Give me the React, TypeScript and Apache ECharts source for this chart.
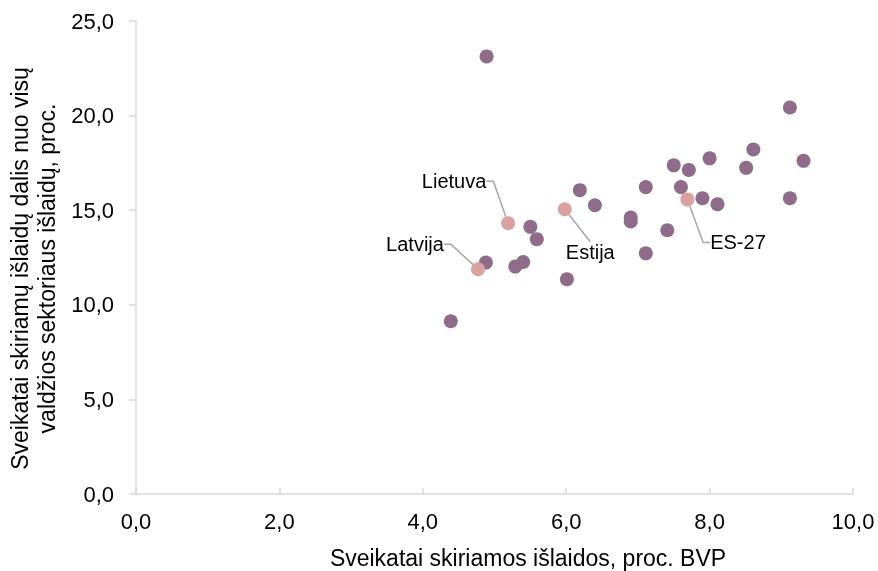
import React, { useEffect, useRef } from 'react';
import * as echarts from 'echarts';

// Other countries (x: health spending % of GDP, y: share of total government spending %)
const othersX = [4.89, 4.39, 4.88, 5.50, 5.59, 5.29, 5.40, 6.01, 6.19, 6.40, 6.90, 6.90, 7.11, 7.11, 7.41, 7.50, 7.60, 7.71, 7.90, 8.11, 8.00, 8.51, 8.61, 9.12, 9.31, 9.12];
const othersY = [23.13, 9.13, 12.23, 14.12, 13.47, 12.02, 12.26, 11.35, 16.06, 15.26, 14.61, 14.40, 16.22, 12.72, 13.94, 17.37, 16.22, 17.13, 15.63, 15.32, 17.74, 17.24, 18.21, 20.43, 17.61, 15.63];

// Highlighted (labelled) points
const highlightNames = ['Latvija', 'Lietuva', 'Estija', 'ES-27'];
const highlightX = [4.77, 5.19, 5.98, 7.69];
const highlightY = [11.88, 14.31, 15.05, 15.57];

const xTitle = 'Sveikatai skiriamos išlaidos, proc. BVP';
const yTitle = 'Sveikatai skiriamų išlaidų dalis nuo visų\nvaldžios sektoriaus išlaidų, proc.';

// label offsets (px) from the point centre and leader elbow length, layout only
const labelOffsets: number[][] = [[-63, -25], [-54, -42], [25.5, 42.5], [50.6, 43]];
const labelElbows = [7, 7, 0, 7];

export default function App() {
  const ref = useRef<HTMLDivElement>(null);
  useEffect(() => {
    const chart = echarts.init(ref.current!, null, { renderer: 'svg' });
    const font = '"Liberation Sans", Arial, sans-serif';
    const fmt = (v: number) => v.toFixed(1).replace('.', ',');
    const axisColor = '#DCD6DA';
    chart.setOption({
      animation: false,
      textStyle: { fontFamily: font },
      grid: { left: 136, right: 25, top: 21, bottom: 77, containLabel: false, outerBoundsMode: 'none' },
      xAxis: {
        type: 'value',
        min: 0,
        max: 10,
        interval: 2,
        splitLine: { show: false },
        axisLine: { show: true, lineStyle: { color: axisColor, width: 1.5 } },
        axisTick: { show: true, inside: true, length: 6, lineStyle: { color: axisColor, width: 1.5 } },
        axisLabel: { formatter: fmt, fontSize: 22, color: '#000', margin: 16, fontFamily: font },
        name: xTitle,
        nameLocation: 'middle',
        nameGap: 52,
        nameTextStyle: { fontSize: 23, color: '#000', fontFamily: font, padding: [0, 0, 0, 67] },
      },
      yAxis: {
        type: 'value',
        min: 0,
        max: 25,
        interval: 5,
        splitLine: { show: false },
        axisLine: { show: true, lineStyle: { color: axisColor, width: 1.5 } },
        axisTick: { show: true, inside: false, length: 7, lineStyle: { color: axisColor, width: 1.5 } },
        axisLabel: { formatter: fmt, fontSize: 22, color: '#000', margin: 22, fontFamily: font },
        name: yTitle,
        nameLocation: 'middle',
        nameRotate: 90,
        nameGap: 73,
        nameTextStyle: { fontSize: 23, color: '#000', fontFamily: font, lineHeight: 27, padding: [0, 22, 0, 0] },
      },
      series: [
        {
          type: 'scatter',
          data: othersX.map((x, i) => [x, othersY[i]]),
          symbolSize: 14,
          itemStyle: { color: '#8E6C8A', opacity: 1 },
          emphasis: { disabled: true },
        },
        {
          type: 'scatter',
          data: highlightX.map((x, i) => ({
            name: highlightNames[i],
            value: [x, highlightY[i]],
            labelLine: { length2: labelElbows[i] },
          })),
          symbolSize: 14,
          itemStyle: { color: '#D9A19F', opacity: 1 },
          emphasis: { disabled: true },
          label: {
            show: true,
            formatter: '{b}',
            fontSize: 20,
            color: '#000',
            fontFamily: font,
            padding: [3, 8],
          },
          labelLine: { show: true, showAbove: true, length2: 7, lineStyle: { color: '#A6A6A6', width: 1.5 } },
          labelLayout: (p: any) => {
            const o = labelOffsets[p.dataIndex];
            return {
              x: p.rect.x + p.rect.width / 2 + o[0],
              y: p.rect.y + p.rect.height / 2 + o[1],
              align: 'center',
              verticalAlign: 'middle',
            };
          },
        },
      ],
    });
    return () => chart.dispose();
  }, []);
  return <div ref={ref} style={{ position: 'fixed', left: 0, top: 0, width: 878, height: 571 }} />;
}
